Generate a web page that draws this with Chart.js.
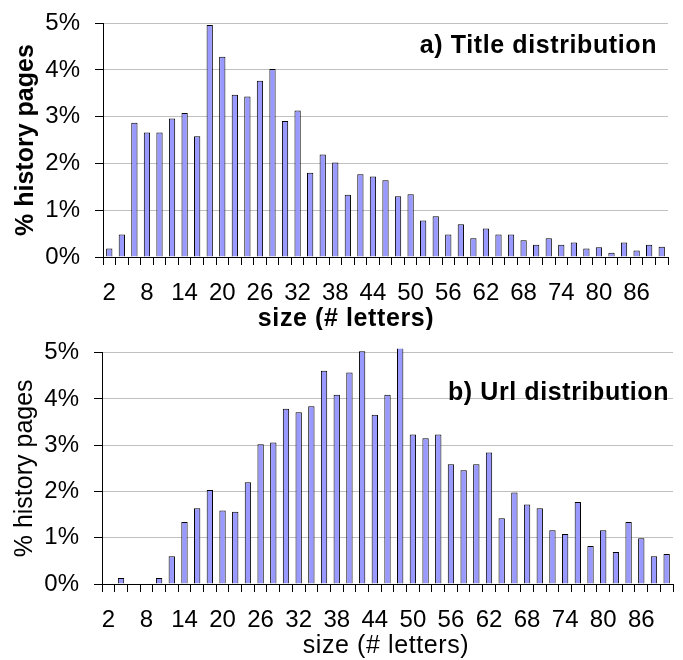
<!DOCTYPE html>
<html>
<head>
<meta charset="utf-8">
<script src="https://cdn.jsdelivr.net/npm/chart.js@4"></script>
<style>
  body { margin: 0; background: #fff; }
  .panel { position: relative; width: 683px; height: 330px; }
</style>
</head>
<body>
<div class="panel"><canvas id="titleChart"></canvas></div>
<div class="panel"><canvas id="urlChart"></canvas></div>
<script>
// size of the string, in letters (one bar per even size)
const sizes = [2, 4, 6, 8, 10, 12, 14, 16, 18, 20, 22, 24, 26, 28, 30, 32, 34, 36, 38, 40,
  42, 44, 46, 48, 50, 52, 54, 56, 58, 60, 62, 64, 66, 68, 70, 72, 74, 76, 78, 80,
  82, 84, 86, 88, 90];

// % of history pages, title lengths
const titleShare = [0.18, 0.48, 2.87, 2.66, 2.66, 2.96, 3.08, 2.58, 4.96, 4.28,
  3.47, 3.43, 3.77, 4.02, 2.91, 3.13, 1.80, 2.19, 2.02, 1.33,
  1.77, 1.72, 1.64, 1.30, 1.34, 0.78, 0.87, 0.48, 0.70, 0.40,
  0.61, 0.48, 0.48, 0.36, 0.26, 0.40, 0.26, 0.31, 0.18, 0.21,
  0.09, 0.31, 0.14, 0.26, 0.22];

// % of history pages, url lengths
const urlShare = [0, 0.13, 0, 0, 0.13, 0.60, 1.34, 1.64, 2.03, 1.59,
  1.56, 2.20, 3.02, 3.06, 3.79, 3.71, 3.84, 4.61, 4.09, 4.57,
  5.03, 3.66, 4.09, 5.20, 3.23, 3.15, 3.23, 2.59, 2.46, 2.59,
  2.84, 1.42, 1.98, 1.72, 1.64, 1.16, 1.08, 1.77, 0.82, 1.16,
  0.69, 1.34, 0.99, 0.60, 0.65];

const yTicks = [0, 1, 2, 3, 4, 5];

Chart.defaults.font.family = '"Liberation Sans", Arial, sans-serif';
Chart.defaults.color = '#000';

// panel caption + x axis title drawn on the canvas
const panelText = {
  id: 'panelText',
  afterDraw(chart, args, opts) {
    const { ctx, chartArea } = chart;
    ctx.save();
    ctx.fillStyle = '#000';
    ctx.textBaseline = 'middle';
    ctx.letterSpacing = '0.6px';
    ctx.font = 'bold 25px "Liberation Sans", Arial, sans-serif';
    ctx.textAlign = 'right';
    ctx.fillText(opts.caption, chartArea.right + opts.captionDx, chartArea.top + opts.captionDy);
    ctx.font = (opts.bold ? 'bold ' : '') + '25px "Liberation Sans", Arial, sans-serif';
    ctx.textAlign = 'center';
    ctx.fillText('size (# letters)', opts.xTitleX, opts.xTitleY);
    ctx.restore();
  }
};

function renderPanel(canvasId, values, o) {
  const canvas = document.getElementById(canvasId);
  if (!canvas) return;

  new Chart(canvas, {
    type: 'bar',
    data: {
      labels: sizes,
      datasets: [{
        data: values,
        backgroundColor: '#9999ff',
        borderColor: '#000',
        borderWidth: 1,
        barPercentage: 0.5,
        categoryPercentage: 1,
        clip: { left: 0, right: 0, top: 4, bottom: 0 },
      }],
    },
    options: {
      responsive: true,
      maintainAspectRatio: false,
      animation: false,
      layout: { padding: { top: o.top, right: o.right, left: 0, bottom: 0 } },
      plugins: {
        legend: { display: false },
        tooltip: { enabled: false },
        panelText: { caption: o.caption, captionDx: o.captionDx, captionDy: o.captionDy,
          bold: o.bold, xTitleX: o.xTitleX, xTitleY: o.xTitleY },
      },
      scales: {
        x: {
          grid: { offset: true, drawOnChartArea: false, tickLength: 8, tickColor: '#000' },
          border: { color: '#000', width: 1 },
          ticks: {
            autoSkip: false, maxRotation: 0, padding: 14, font: { size: 24 },
            callback: (v, i) => (i % 3 === 0 ? String(sizes[i]) : ''),
          },
          afterFit: s => { s.height = o.xHeight; },
        },
        y: {
          min: 0,
          max: 5,
          afterBuildTicks: s => { s.ticks = yTicks.map(v => ({ value: v })); },
          grid: { color: '#c0c0c0', tickLength: 8, tickColor: '#000' },
          border: { color: '#000', width: 1 },
          ticks: { padding: 15, font: { size: 24, lineHeight: o.tickLine }, callback: v => v + '%' },
          title: {
            display: true, text: '% history pages',
            font: { size: 25, weight: o.bold ? 'bold' : 'normal' },
            padding: { top: o.yTitlePad, bottom: 0 },
          },
          afterFit: s => { s.width = o.yWidth; },
        },
      },
    },
    plugins: [panelText],
  });
}

renderPanel('titleChart', titleShare, {
  top: 4, right: 15, xHeight: 73, yWidth: 103, yTitlePad: 11, bold: true, tickLine: 0.68,
  caption: 'a) Title distribution', captionDx: -11, captionDy: 23,
  xTitleX: 346, xTitleY: 319,
});

renderPanel('urlChart', urlShare, {
  top: 4, right: 10, xHeight: 76, yWidth: 102, yTitlePad: 10, bold: false, tickLine: 0.64,
  caption: 'b) Url distribution', captionDx: -4, captionDy: 40,
  xTitleX: 386, xTitleY: 316,
});
</script>
</body>
</html>
